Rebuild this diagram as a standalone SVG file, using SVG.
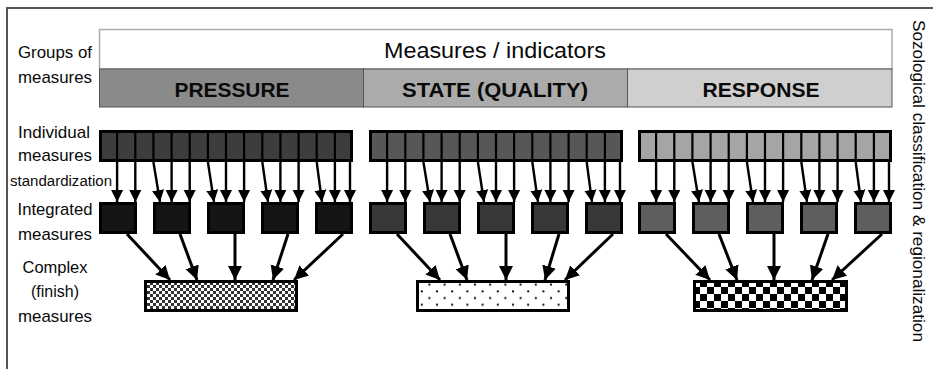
<svg xmlns="http://www.w3.org/2000/svg" width="933" height="369" viewBox="0 0 933 369">
<style>
text{font-family:"Liberation Sans",Arial,sans-serif;fill:#0a0a0a}
.lbl{font-size:17px;text-anchor:middle}
.band{font-size:20.5px;font-weight:bold;text-anchor:middle}
.row{stroke:#000;stroke-width:3}
.div{stroke:#000;stroke-width:2.2}
.ib{stroke:#000;stroke-width:3}
.cx{stroke:#000;stroke-width:3}
.a1{stroke:#000;stroke-width:2.4;fill:none;marker-end:url(#ah1)}
.a2{stroke:#000;stroke-width:3;fill:none;marker-end:url(#ah2)}
</style>
<defs>
<marker id="ah1" markerUnits="userSpaceOnUse" markerWidth="14" markerHeight="14" viewBox="0 0 14 14" refX="12" refY="7" orient="auto"><path d="M0,1 L12,7 L0,13 z" fill="#000"/></marker>
<marker id="ah2" markerUnits="userSpaceOnUse" markerWidth="16" markerHeight="16" viewBox="0 0 16 16" refX="14" refY="8" orient="auto"><path d="M0,1 L14,8 L0,15 z" fill="#000"/></marker>
<pattern id="pfine" width="6" height="6" patternUnits="userSpaceOnUse"><rect width="6" height="6" fill="#fff"/><rect width="3" height="3" fill="#333"/><rect x="3" y="3" width="3" height="3" fill="#333"/></pattern>
<pattern id="pdots" width="15.2" height="13.4" patternUnits="userSpaceOnUse"><rect width="15.2" height="13.4" fill="#fff"/><circle cx="3.8" cy="3.3" r="1.1" fill="#000"/><circle cx="11.4" cy="10" r="1.1" fill="#000"/></pattern>
<pattern id="pcheck" width="14" height="14" patternUnits="userSpaceOnUse"><rect width="14" height="14" fill="#fff"/><rect width="7" height="7" fill="#000"/><rect x="7" y="7" width="7" height="7" fill="#000"/></pattern>
</defs>
<rect width="933" height="369" fill="#fff"/>
<path d="M7,369 V8 H933" fill="none" stroke="#555" stroke-width="2"/>

<g id="header">
<rect x="99.5" y="29.5" width="792.5" height="39.5" fill="#fff" stroke="#aaa" stroke-width="1.5"/>
<text x="495" y="57.5" style="font-size:21.5px;text-anchor:middle" textLength="222" lengthAdjust="spacingAndGlyphs">Measures / indicators</text>
</g>
<g id="band-pressure"><rect x="99.5" y="69" width="264" height="38" fill="#8a8a8a" stroke="#555" stroke-width="1"/><text class="band" x="232" y="96.5" textLength="115" lengthAdjust="spacingAndGlyphs">PRESSURE</text></g>
<g id="band-state"><rect x="363.5" y="69" width="264" height="38" fill="#ababab" stroke="#555" stroke-width="1"/><text class="band" x="495" y="96.5" textLength="186" lengthAdjust="spacingAndGlyphs">STATE (QUALITY)</text></g>
<g id="band-response"><rect x="627.5" y="69" width="264.5" height="38" fill="#cfcfcf" stroke="#555" stroke-width="1"/><text class="band" x="761" y="96.5" textLength="117" lengthAdjust="spacingAndGlyphs">RESPONSE</text></g>

<g id="labels">
<text class="lbl" x="55" y="58" textLength="74" lengthAdjust="spacingAndGlyphs">Groups of</text>
<text class="lbl" x="55" y="83" textLength="74" lengthAdjust="spacingAndGlyphs">measures</text>
<text class="lbl" x="54" y="138" textLength="72" lengthAdjust="spacingAndGlyphs">Individual</text>
<text class="lbl" x="55" y="161" textLength="74" lengthAdjust="spacingAndGlyphs">measures</text>
<text x="61" y="186" style="font-size:14px;text-anchor:middle" textLength="102" lengthAdjust="spacingAndGlyphs">standardization</text>
<text class="lbl" x="55" y="215" textLength="75" lengthAdjust="spacingAndGlyphs">Integrated</text>
<text class="lbl" x="55" y="240" textLength="74" lengthAdjust="spacingAndGlyphs">measures</text>
<text class="lbl" x="55" y="273" textLength="65" lengthAdjust="spacingAndGlyphs">Complex</text>
<text class="lbl" x="55" y="297" textLength="48" lengthAdjust="spacingAndGlyphs">(finish)</text>
<text class="lbl" x="55" y="322" textLength="74" lengthAdjust="spacingAndGlyphs">measures</text>
<text x="913" y="181" transform="rotate(90 913 181)" style="font-size:16.5px;text-anchor:middle" textLength="322" lengthAdjust="spacingAndGlyphs">Sozological classification &amp; regionalization</text>
</g>

<!-- PRESSURE -->
<g id="pressure-individual" transform="translate(99,0)">
<rect class="row" x="1.5" y="131.5" width="251" height="29" fill="#3d3d3d"/>
<path class="div" d="M18.1,131V162M36.3,131V162M54.4,131V162M72.6,131V162M90.7,131V162M108.9,131V162M127,131V162M145.1,131V162M163.3,131V162M181.4,131V162M199.6,131V162M217.7,131V162M235.9,131V162"/>
</g>
<g id="pressure-integrated" transform="translate(99,0)" fill="#151515">
<rect class="ib" x="1.5" y="203.5" width="35" height="29"/>
<rect class="ib" x="55.5" y="203.5" width="35" height="29"/>
<rect class="ib" x="109.5" y="203.5" width="35" height="29"/>
<rect class="ib" x="163.5" y="203.5" width="35" height="29"/>
<rect class="ib" x="217.5" y="203.5" width="35" height="29"/>
</g>
<g id="pressure-complex"><rect class="cx" x="145.5" y="281.5" width="151" height="29" fill="url(#pfine)"/></g>

<!-- STATE -->
<g id="state-individual" transform="translate(369,0)">
<rect class="row" x="1.5" y="131.5" width="251" height="29" fill="#575757"/>
<path class="div" d="M18.1,131V162M36.3,131V162M54.4,131V162M72.6,131V162M90.7,131V162M108.9,131V162M127,131V162M145.1,131V162M163.3,131V162M181.4,131V162M199.6,131V162M217.7,131V162M235.9,131V162"/>
</g>
<g id="state-integrated" transform="translate(369,0)" fill="#383838">
<rect class="ib" x="1.5" y="203.5" width="35" height="29"/>
<rect class="ib" x="55.5" y="203.5" width="35" height="29"/>
<rect class="ib" x="109.5" y="203.5" width="35" height="29"/>
<rect class="ib" x="163.5" y="203.5" width="35" height="29"/>
<rect class="ib" x="217.5" y="203.5" width="35" height="29"/>
</g>
<g id="state-complex"><rect class="cx" x="417.5" y="281.5" width="151" height="29" fill="url(#pdots)"/></g>

<!-- RESPONSE -->
<g id="response-individual" transform="translate(638,0)">
<rect class="row" x="1.5" y="131.5" width="251" height="29" fill="#a5a5a5"/>
<path class="div" d="M18.1,131V162M36.3,131V162M54.4,131V162M72.6,131V162M90.7,131V162M108.9,131V162M127,131V162M145.1,131V162M163.3,131V162M181.4,131V162M199.6,131V162M217.7,131V162M235.9,131V162"/>
</g>
<g id="response-integrated" transform="translate(638,0)" fill="#5e5e5e">
<rect class="ib" x="1.5" y="203.5" width="35" height="29"/>
<rect class="ib" x="55.5" y="203.5" width="35" height="29"/>
<rect class="ib" x="109.5" y="203.5" width="35" height="29"/>
<rect class="ib" x="163.5" y="203.5" width="35" height="29"/>
<rect class="ib" x="217.5" y="203.5" width="35" height="29"/>
</g>
<g id="response-complex"><rect class="cx" x="694.5" y="281.5" width="152" height="29" fill="url(#pcheck)"/></g>

<g id="connectors">
<g transform="translate(99,0)">
<path class="a1" d="M18.1,162V202"/><path class="a1" d="M36.3,162V202"/>
<path class="a1" d="M54.4,162L61,202"/><path class="a1" d="M72.6,162V202"/><path class="a1" d="M90.7,162V202"/>
<path class="a1" d="M108.9,162L115,202"/><path class="a1" d="M127,162V202"/><path class="a1" d="M145.1,162V202"/>
<path class="a1" d="M163.3,162L169,202"/><path class="a1" d="M181.4,162V202"/><path class="a1" d="M199.6,162V202"/>
<path class="a1" d="M217.7,162L223,202"/><path class="a1" d="M235.9,162V202"/><path class="a1" d="M251,162V202"/>
<path class="a2" d="M28,234L71,280"/><path class="a2" d="M81,234L98,280"/><path class="a2" d="M136,234V280"/><path class="a2" d="M189,234L174,280"/><path class="a2" d="M244,234L195,280"/>
</g>
<g transform="translate(369,0)">
<path class="a1" d="M18.1,162V202"/><path class="a1" d="M36.3,162V202"/>
<path class="a1" d="M54.4,162L61,202"/><path class="a1" d="M72.6,162V202"/><path class="a1" d="M90.7,162V202"/>
<path class="a1" d="M108.9,162L115,202"/><path class="a1" d="M127,162V202"/><path class="a1" d="M145.1,162V202"/>
<path class="a1" d="M163.3,162L169,202"/><path class="a1" d="M181.4,162V202"/><path class="a1" d="M199.6,162V202"/>
<path class="a1" d="M217.7,162L223,202"/><path class="a1" d="M235.9,162V202"/><path class="a1" d="M251,162V202"/>
<path class="a2" d="M28,234L71,280"/><path class="a2" d="M81,234L98,280"/><path class="a2" d="M137,234V280"/><path class="a2" d="M190,234L176,280"/><path class="a2" d="M244,234L196,280"/>
</g>
<g transform="translate(638,0)">
<path class="a1" d="M18.1,162V202"/><path class="a1" d="M36.3,162V202"/>
<path class="a1" d="M54.4,162L61,202"/><path class="a1" d="M72.6,162V202"/><path class="a1" d="M90.7,162V202"/>
<path class="a1" d="M108.9,162L115,202"/><path class="a1" d="M127,162V202"/><path class="a1" d="M145.1,162V202"/>
<path class="a1" d="M163.3,162L169,202"/><path class="a1" d="M181.4,162V202"/><path class="a1" d="M199.6,162V202"/>
<path class="a1" d="M217.7,162L223,202"/><path class="a1" d="M235.9,162V202"/><path class="a1" d="M251,162V202"/>
<path class="a2" d="M28,234L72,280"/><path class="a2" d="M81,234L99,280"/><path class="a2" d="M136,234V280"/><path class="a2" d="M190,234L174,280"/><path class="a2" d="M244,234L194,280"/>
</g>
</g>
</svg>
